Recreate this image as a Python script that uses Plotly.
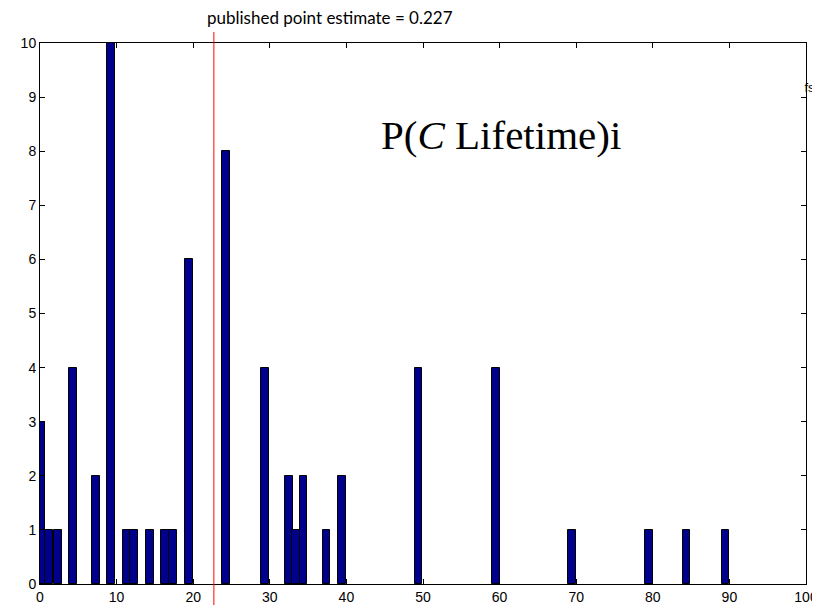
import plotly.graph_objects as go

# Data
bin_centers = [0.1, 1.2, 2.3, 4.3, 7.35, 9.3, 11.3, 12.3, 14.35, 16.35, 17.4, 19.45,
               24.3, 29.35, 32.5, 33.4, 34.4, 37.4, 39.4, 49.4, 59.5, 69.4, 79.5, 84.4, 89.5]
counts = [3, 1, 1, 4, 2, 10, 1, 1, 1, 1, 1, 6,
          8, 4, 2, 1, 2, 1, 2, 4, 4, 1, 1, 1, 1]
point_estimate = 22.7
x_ticks = list(range(0, 101, 10))
y_ticks = list(range(0, 11, 1))
side_label = "fs"
side_label_pos = (99.8, 9.15)

fig = go.Figure()
fig.add_trace(go.Bar(
    x=bin_centers, y=counts, width=1.02,
    marker=dict(color="#00008C", line=dict(color="black", width=1)),
    showlegend=False,
))
fig.add_trace(go.Scatter(
    x=[side_label_pos[0]], y=[side_label_pos[1]], mode="text", text=[side_label],
    textposition="middle right", cliponaxis=False, showlegend=False, hoverinfo="skip",
    textfont=dict(family="Liberation Sans, Arial, sans-serif", size=13, color="black"),
))

# page body has an 8px margin; plot area target: x 40..806, y 43..584 in window
OFF = 8
W, H = 812, 601
L, T = 40 - OFF, 43 - OFF
pw, ph = 766, 541
R = W - L - pw
B = H - T - ph

fig.add_shape(type="line", xref="x", yref="paper",
              x0=point_estimate, x1=point_estimate,
              y0=-(605 - 584) / ph, y1=(584 - 32) / ph,
              line=dict(color="red", width=1))

fig.add_annotation(text="published point estimate = 0.227", xref="paper", yref="paper",
                   x=(330 - 40) / pw, y=(584 - 17) / ph, showarrow=False,
                   xanchor="center", yanchor="middle",
                   font=dict(family="Lato, Open Sans, sans-serif", size=17, color="black"))

fig.add_annotation(text="P(<i>C</i> Lifetime)i", xref="paper", yref="paper",
                   x=(501 - 40) / pw, y=(584 - 135) / ph, showarrow=False,
                   xanchor="center", yanchor="middle",
                   font=dict(family="Liberation Serif, Times New Roman, serif", size=41, color="black"))

axis_common = dict(showline=True, linecolor="black", linewidth=1, mirror="ticks",
                   ticks="inside", ticklen=5, tickcolor="black", showgrid=False,
                   zeroline=False, automargin=False,
                   tickfont=dict(family="Arial, Liberation Sans, sans-serif", size=14, color="black"))

fig.update_xaxes(range=[0, 100], tickvals=x_ticks, **axis_common)
fig.update_yaxes(range=[0, 10], tickvals=y_ticks, **axis_common)

fig.update_layout(
    width=W, height=H,
    margin=dict(l=L, r=R, t=T, b=B, autoexpand=False),
    plot_bgcolor="white", paper_bgcolor="white",
    bargap=0,
)

fig.write_html("out.html")
